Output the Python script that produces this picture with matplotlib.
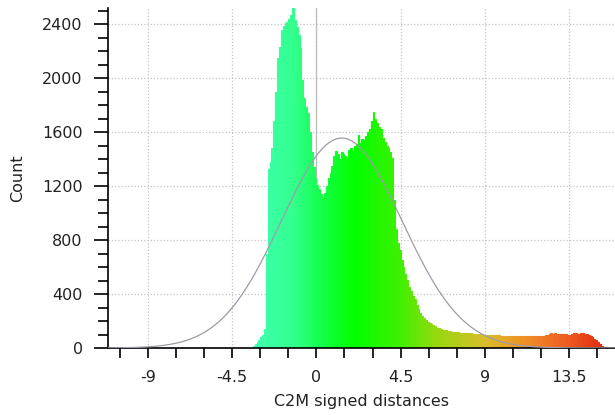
import numpy as np
import matplotlib.pyplot as plt
from matplotlib.colors import LinearSegmentedColormap, Normalize
from matplotlib.ticker import MultipleLocator

# histogram of C2M signed distances, bins of 0.1 starting at -3.4
bin_start = -3.4
bin_width = 0.1
counts = [
    15, 30, 45, 60, 80, 100, 140, 700, 1330, 1380,
    1480, 1680, 1900, 2150, 2230, 2360, 2390, 2410, 2420, 2440,
    2470, 2520, 2430, 2380, 2320, 2220, 1990, 1850, 1790, 1740,
    1600, 1450, 1340, 1260, 1210, 1180, 1140, 1120, 1150, 1200,
    1260, 1300, 1350, 1420, 1460, 1440, 1400, 1450, 1440, 1420,
    1410, 1470, 1480, 1460, 1500, 1510, 1580, 1520, 1550, 1540,
    1570, 1600, 1620, 1680, 1750, 1700, 1670, 1640, 1620, 1560,
    1530, 1500, 1480, 1450, 1410, 1100, 880, 780, 730, 650,
    600, 550, 505, 450, 420, 385, 360, 320, 290, 260,
    240, 220, 205, 195, 185, 175, 168, 160, 152, 146,
    140, 136, 133, 130, 127, 124, 122, 120, 118, 117,
    115, 114, 113, 112, 111, 110, 108, 107, 106, 104,
    103, 102, 100, 99, 98, 97, 96, 95, 95, 94,
    93, 93, 92, 91, 91, 90, 90, 89, 89, 88,
    88, 87, 87, 87, 86, 86, 87, 86, 86, 88,
    87, 88, 89, 90, 90, 92, 95, 100, 106, 108,
    107, 110, 106, 104, 102, 104, 106, 103, 100, 98,
    102, 108, 110, 104, 106, 108, 110, 104, 104, 100,
    92, 81, 70, 58, 44, 30, 18, 8, 5, 3,
    2, 1,
]

# fitted gaussian
gauss_mean = 1.35
gauss_sigma = 3.22
gauss_peak = 1556

x_ticks = [-9, -4.5, 0, 4.5, 9, 13.5]
y_ticks = [0, 400, 800, 1200, 1600, 2000, 2400]

# colour scale along the distance axis
scale_pos = [-3.4, -1.3, 0.0, 2.0, 4.5, 6.5, 9.0, 11.0, 13.5, 15.9]
scale_col = ["#40ffb0", "#33ff90", "#18ff55", "#00ff00", "#40f000",
             "#99d810", "#d8be2a", "#ee9426", "#ee5a20", "#dc1e0a"]

counts = np.array(counts)
lefts = bin_start + bin_width * np.arange(len(counts))
centers = lefts + bin_width / 2

lo, hi = scale_pos[0], scale_pos[-1]
cmap = LinearSegmentedColormap.from_list(
    "c2m", [((p - lo) / (hi - lo), c) for p, c in zip(scale_pos, scale_col)])
norm = Normalize(lo, hi)

plt.rcParams["font.family"] = "DejaVu Sans"
fig = plt.figure(figsize=(6.15, 4.15), dpi=100)
ax = fig.add_axes([0.1751, 0.1614, 0.8249, 0.8193])

bar_cols = cmap(norm(centers))
ax.bar(lefts, counts, width=bin_width, align="edge",
       color=bar_cols, edgecolor=bar_cols, linewidth=0.8, zorder=2)

xs = np.linspace(-11.2, 16, 600)
gauss = gauss_peak * np.exp(-(xs - gauss_mean) ** 2 / (2 * gauss_sigma ** 2))
ax.plot(xs, gauss, color="#9c9ca8", lw=0.9, zorder=3)

ax.axvline(0, color="#bcbcbc", lw=0.9, zorder=1)

ax.set_xlim(-11.15, 15.95)
ax.set_ylim(0, 2520)
ax.set_xticks(x_ticks)
ax.set_xticklabels([f"{t:g}" for t in x_ticks])
ax.set_yticks(y_ticks)
ax.xaxis.set_minor_locator(MultipleLocator(1.5))
ax.yaxis.set_minor_locator(MultipleLocator(100))

ax.grid(True, which="major", color="#c4c4c4", linestyle=(0, (1, 1.6)), lw=0.9, zorder=0)
ax.set_axisbelow(True)

for s in ["top", "right"]:
    ax.spines[s].set_visible(False)
for s in ["left", "bottom"]:
    ax.spines[s].set_linewidth(1.2)

ax.tick_params(axis="x", which="both", length=7, width=1.2, pad=9,
               labelsize=11.5, labelcolor="#222222")
ax.tick_params(axis="y", which="major", length=10, width=1.2, pad=8,
               labelsize=11.5, labelcolor="#222222")
ax.tick_params(axis="y", which="minor", length=7, width=1.2)

ax.set_xlabel("C2M signed distances", fontsize=11.5, labelpad=6, color="#222222")
ax.set_ylabel("Count", fontsize=11.5, labelpad=12, color="#222222")

fig.savefig("out.png", dpi=100)
